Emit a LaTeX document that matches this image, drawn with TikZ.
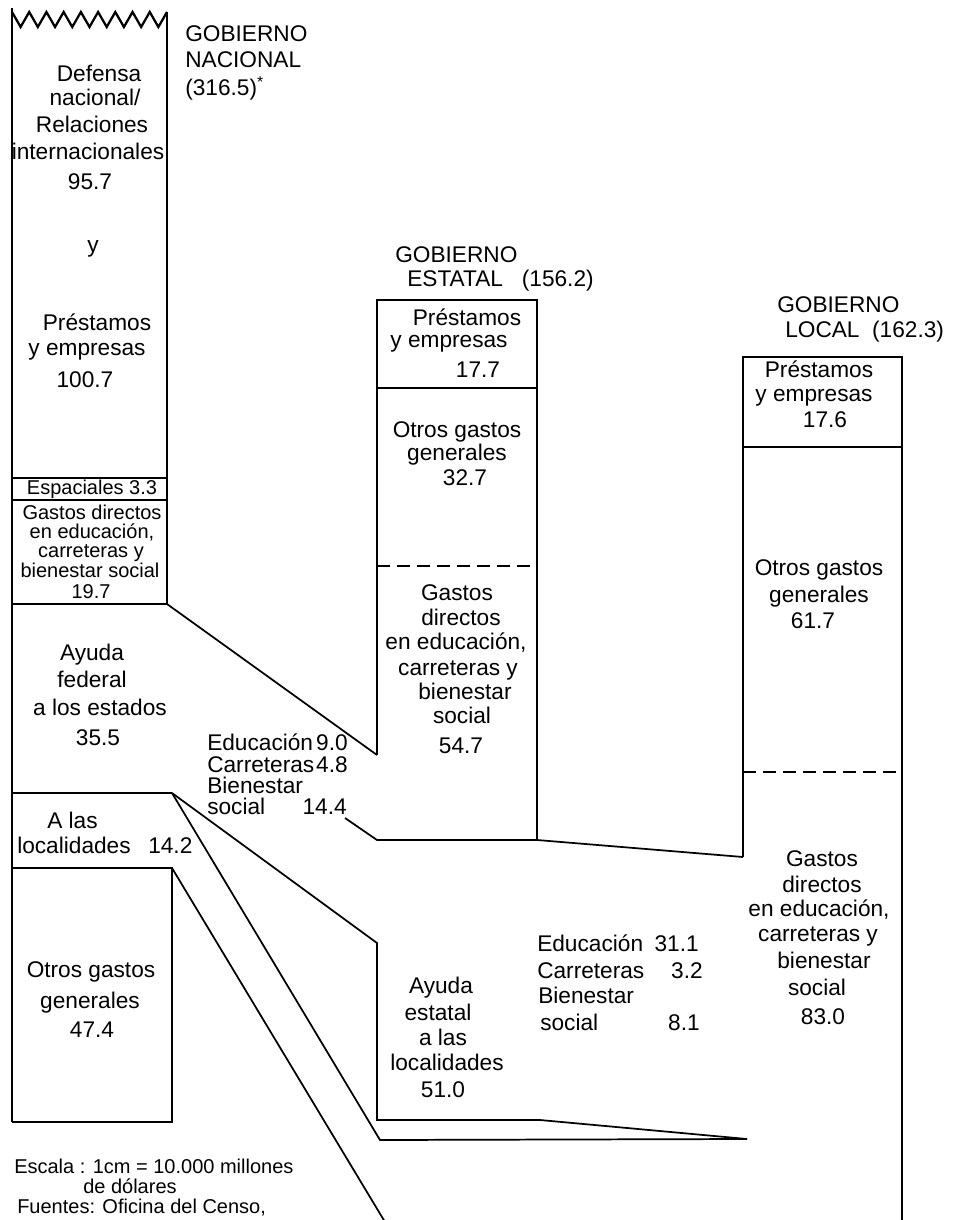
\documentclass[tikz,border=0pt]{standalone}
\usepackage{fontspec}
\setmainfont{Liberation Sans}
\begin{document}
\begin{tikzpicture}[x=0.75pt,y=-0.75pt,
  box/.style={line width=1.7pt},
  thin/.style={line width=1.2pt},
  flow/.style={line width=1.3pt},
  dsh/.style={line width=1.4pt, dash pattern=on 10pt off 5pt},
  tx/.style={font=\fontsize{17}{20}\selectfont, inner sep=0pt, anchor=base},
  txl/.style={tx, anchor=base west},
  txr/.style={tx, anchor=base east},
  sm/.style={font=\fontsize{15}{18}\selectfont, inner sep=0pt, anchor=base},
  sml/.style={sm, anchor=base west},
  ttl/.style={font=\fontsize{17}{19}\selectfont, inner sep=0pt, anchor=base west}]
\useasboundingbox (0,0) rectangle (955,1220);

% ---------------- national column ----------------
\coordinate (nTL) at (12,12);
\coordinate (nTR) at (167,12);
\draw[box] (12,8) -- (12,1122);
\draw[box] (nTL) \foreach \i in {0,...,8} { -- ({12+\i*17.22+8.61},27) -- ({12+(\i+1)*17.22},12) };
\draw[box] (nTR) -- (167,604);
\draw[thin] (12,478) -- (167,478);
\draw[thin] (12,500) -- (167,500);
\draw[box] (12,604) -- (167,604);
\draw[box] (12,793) -- (172,793);
\draw[box] (12,868) -- (172,868) -- (172,1122) -- (12,1122);

% ---------------- state column ----------------
\coordinate (sTL) at (377,300);
\coordinate (sTR) at (537,300);
\coordinate (sIn) at (377,755);
\coordinate (sBL) at (377,840);
\coordinate (sBR) at (537,840);
\draw[box] (sIn) -- (sTL) -- (sTR) -- (sBR);
\draw[box] (377,388) -- (537,388);
\draw[dsh] (377,566) -- (537,566);

% ---------------- local column ----------------
\coordinate (lTL) at (743,357);
\coordinate (lTR) at (902,357);
\coordinate (lIn) at (743,857);
\draw[box] (lIn) -- (lTL) -- (lTR) -- (902,1222);
\draw[box] (743,447) -- (902,447);
\draw[dsh] (743,772) -- (902,772);

% ---------------- flows ----------------
\coordinate (fedTop) at (167,604);
\coordinate (fedBot) at (172,793);
\coordinate (otTop) at (172,868);
\coordinate (tip) at (747,1139);
\draw[flow] (fedTop) -- (sIn);
\draw[flow] (345,818) -- (sBL) -- (sBR) -- (lIn);
\draw[flow] (fedBot) -- (377,943) -- (377,1120) -- (540,1120) -- (tip);
\draw[flow] (fedBot) -- (380,1140) -- (tip);
\draw[flow] (otTop) -- (385,1222);

% ---------------- titles ----------------
\node[ttl] (tn1) at (185,42) {GOBIERNO};
\node[ttl] (tn2) at (185,68) {NACIONAL};
\node[ttl] (tn3) at (185,96) {(316.5)\textsuperscript{*}};
\node[ttl] (ts1) at (395,262) {GOBIERNO};
\node[ttl] (ts2) at (407,286) {ESTATAL\ \ \ (156.2)};
\node[ttl] (tl1) at (777,312) {GOBIERNO};
\node[ttl] (tl2) at (785,337) {LOCAL\ \ (162.3)};

% ---------------- national texts ----------------
\node[tx] (d1) at (99,82) {Defensa};
\node[tx] (d2) at (95,106) {nacional/};
\node[tx] (d3) at (92,133) {Relaciones};
\node[tx] (d4) at (88,160) {internacionales};
\node[tx] (d5) at (90,190) {95.7};
\node[tx] (dy) at (93,252) {y};
\node[tx] (p1) at (97,330) {Préstamos};
\node[tx] (p2) at (87,355) {y empresas};
\node[tx] (p3) at (85,387) {100.7};
\node[sm] (esp) at (92,494) {Espaciales 3.3};
\node[sm] (g1) at (92,519) {Gastos directos};
\node[sm] (g2) at (92,538) {en educación,};
\node[sm] (g3) at (91,557) {carreteras y};
\node[sm] (g4) at (90,577) {bienestar social};
\node[sm] (g5) at (91,598) {19.7};
\node[tx] (a1) at (92,660) {Ayuda};
\node[tx] (a2) at (92,687) {federal};
\node[tx] (a3) at (100,715) {a los estados};
\node[tx] (a4) at (98,745) {35.5};
\node[txl] (al1) at (47,828) {A las};
\node[txl] (al2) at (17,853) {localidades};
\node[txl] (al3) at (148,853) {14.2};
\node[tx] (o1) at (91,977) {Otros gastos};
\node[tx] (o2) at (90,1008) {generales};
\node[tx] (o3) at (92,1037) {47.4};

% federal aid to states breakdown
\node[txl] (fe1) at (207,750) {Educación};
\node[txr] (fe2) at (348,750) {9.0};
\node[txl] (fc1) at (207,772) {Carreteras};
\node[txr] (fc2) at (348,772) {4.8};
\node[txl] (fb1) at (207,793) {Bienestar};
\node[txl] (fb2) at (207,814) {social};
\node[txr] (fb3) at (347,814) {14.4};

% ---------------- state texts ----------------
\node[tx] (sp1) at (467,325) {Préstamos};
\node[tx] (sp2) at (449,347) {y empresas};
\node[tx] (sp3) at (478,377) {17.7};
\node[tx] (so1) at (457,437) {Otros gastos};
\node[tx] (so2) at (457,460) {generales};
\node[tx] (so3) at (465,485) {32.7};
\node[tx] (sg1) at (457,600) {Gastos};
\node[tx] (sg2) at (461,625) {directos};
\node[tx] (sg3) at (456,649) {en educación,};
\node[tx] (sg4) at (458,675) {carreteras y};
\node[tx] (sg5) at (465,699) {bienestar};
\node[tx] (sg6) at (462,723) {social};
\node[tx] (sg7) at (461,753) {54.7};

% state aid to localities
\node[tx] (ae1) at (441,993) {Ayuda};
\node[tx] (ae2) at (438,1020) {estatal};
\node[tx] (ae3) at (443,1045) {a las};
\node[tx] (ae4) at (447,1070) {localidades};
\node[tx] (ae5) at (443,1097) {51.0};
\node[txl] (me1) at (537,951) {Educación};
\node[txr] (me2) at (699,951) {31.1};
\node[txl] (mc1) at (537,978) {Carreteras};
\node[txr] (mc2) at (703,978) {3.2};
\node[txl] (mb1) at (538,1003) {Bienestar};
\node[txl] (mb2) at (540,1030) {social};
\node[txr] (mb3) at (700,1030) {8.1};

% ---------------- local texts ----------------
\node[tx] (lp1) at (819,377) {Préstamos};
\node[tx] (lp2) at (814,401) {y empresas};
\node[tx] (lp3) at (825,427) {17.6};
\node[tx] (lo1) at (819,575) {Otros gastos};
\node[tx] (lo2) at (819,602) {generales};
\node[tx] (lo3) at (813,628) {61.7};
\node[tx] (lg1) at (822,866) {Gastos};
\node[tx] (lg2) at (822,892) {directos};
\node[tx] (lg3) at (819,916) {en educación,};
\node[tx] (lg4) at (818,941) {carreteras y};
\node[tx] (lg5) at (824,968) {bienestar};
\node[tx] (lg6) at (817,995) {social};
\node[tx] (lg7) at (823,1024) {83.0};

% ---------------- footer ----------------
\node[sml] (f1) at (14,1173) {Escala : 1cm = 10.000 millones};
\node[sml] (f2) at (83,1193) {de dólares};
\node[sml] (f3) at (17,1213) {Fuentes: Oficina del Censo,};
\end{tikzpicture}
\end{document}
